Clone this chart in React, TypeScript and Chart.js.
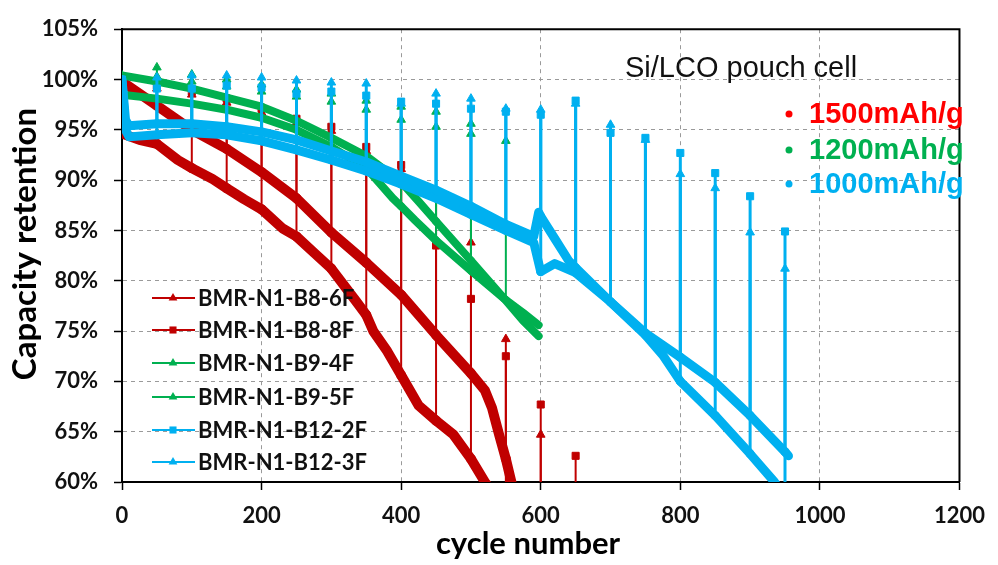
import React, { useEffect, useRef } from "react";
import { Chart, registerables } from "chart.js";

Chart.register(...registerables);

// ---------- tick labels ----------
const X_TICKS = [0, 200, 400, 600, 800, 1000, 1200];
const Y_TICKS = [60, 65, 70, 75, 80, 85, 90, 95, 100, 105];

// ---------- series names ----------
const SERIES_LABELS = [
  "BMR-N1-B8-6F",
  "BMR-N1-B8-8F",
  "BMR-N1-B9-4F",
  "BMR-N1-B9-5F",
  "BMR-N1-B12-2F",
  "BMR-N1-B12-3F",
];

const CAPACITY_LABELS = ["1500mAh/g", "1200mAh/g", "1000mAh/g"];
const NOTE_TEXT = "Si/LCO pouch cell";
const X_TITLE = "cycle number";
const Y_TITLE = "Capacity retention";

// ---------- BMR-N1-B8-6F ----------
const b86Cycles = [0, 25, 50, 100, 150, 200, 250, 300, 350, 400, 450, 500, 520, 530, 540, 550, 560, 600];
const b86Values = [99.8, 98.6, 97.4, 95.0, 93.1, 90.8, 88.2, 84.8, 81.8, 78.6, 74.6, 70.8, 69.1, 67.4, 64.8, 62.3, 59.4, 52.0];
const b86SpikeCycles = [50, 100, 150, 200, 250, 300, 350, 400, 450, 500, 550, 600];
const b86SpikeTops = [99.1, 98.5, 97.7, 96.7, 95.7, 94.9, 92.9, 91.1, 88.5, 83.8, 74.2, 64.7];

// ---------- BMR-N1-B8-8F ----------
const b88Cycles = [0, 5, 25, 50, 80, 100, 130, 150, 175, 200, 230, 250, 275, 300, 335, 350, 360, 380, 400, 425, 450, 475, 500, 520, 550, 600, 650];
const b88Values = [96.0, 94.5, 94.0, 93.6, 92.0, 91.2, 90.1, 89.2, 88.1, 87.1, 85.2, 84.4, 82.8, 81.2, 78.0, 76.6, 75.0, 73.0, 70.6, 67.6, 66.1, 64.7, 62.3, 60.0, 57.0, 53.0, 50.0];
const b88SpikeCycles = [50, 100, 150, 200, 250, 300, 350, 400, 450, 500, 550, 600, 650];
const b88SpikeTops = [99.4, 98.8, 98.1, 97.1, 96.1, 95.3, 93.3, 91.5, 83.5, 78.2, 72.5, 67.7, 62.6];

// ---------- BMR-N1-B9-4F ----------
const b94Cycles = [0, 50, 100, 150, 200, 250, 300, 350, 400, 426, 450, 500, 548, 575, 597];
const b94Values = [100.4, 99.8, 99.1, 98.2, 97.3, 95.9, 94.2, 92.4, 89.8, 87.8, 85.9, 82.0, 78.2, 76.0, 74.5];
const b94SpikeCycles = [50, 100, 150, 200, 250, 300, 350, 400, 450, 500, 550];
const b94SpikeTops = [101.2, 100.5, 100.0, 99.5, 99.0, 98.6, 97.9, 97.3, 96.8, 95.6, 94.3];

// ---------- BMR-N1-B9-5F ----------
const b95Cycles = [0, 50, 100, 150, 200, 250, 300, 350, 388, 400, 420, 450, 500, 548, 550, 575, 597];
const b95Values = [98.5, 98.1, 97.6, 97.0, 96.2, 95.0, 93.3, 91.2, 88.2, 87.4, 86.0, 84.0, 81.0, 78.2, 78.1, 76.8, 75.6];
const b95SpikeCycles = [50, 100, 150, 200, 250, 300, 350, 400, 450, 500, 550];
const b95SpikeTops = [100.3, 99.8, 99.3, 98.8, 98.3, 97.8, 97.0, 96.0, 95.3, 94.6, 93.9];

// ---------- BMR-N1-B12-2F ----------
const b122Cycles = [0, 5, 10, 50, 100, 150, 200, 250, 300, 350, 400, 450, 500, 550, 590, 597, 600, 620, 640, 650, 700, 750, 800, 850, 900, 950, 955];
const b122Values = [100.0, 96.0, 95.4, 95.6, 95.6, 95.3, 94.8, 94.0, 92.9, 91.8, 90.4, 89.0, 87.4, 85.6, 84.4, 86.8, 86.4, 84.2, 82.0, 81.3, 77.9, 74.8, 72.4, 69.9, 66.6, 63.0, 62.6];
const b122SpikeCycles = [50, 100, 150, 200, 250, 300, 350, 400, 450, 500, 550, 600, 650, 700, 750, 800, 850, 900, 950];
const b122SpikeTops = [99.1, 99.1, 99.4, 99.2, 98.6, 98.8, 98.4, 97.8, 97.6, 97.1, 96.8, 96.5, 97.9, 94.7, 94.2, 92.7, 90.7, 88.4, 84.9];

// ---------- BMR-N1-B12-3F ----------
const b123Cycles = [0, 5, 10, 50, 100, 150, 200, 250, 300, 350, 400, 450, 500, 550, 590, 600, 620, 650, 700, 750, 775, 800, 850, 900, 935, 950];
const b123Values = [99.8, 95.0, 94.3, 94.5, 94.7, 94.5, 93.9, 93.0, 92.0, 90.9, 89.6, 88.2, 86.6, 85.0, 83.8, 80.9, 81.7, 80.8, 77.9, 74.6, 72.6, 70.0, 66.6, 62.8, 60.0, 58.5];
const b123SpikeCycles = [50, 100, 150, 200, 250, 300, 350, 400, 450, 500, 550, 600, 650, 700, 750, 800, 850, 900, 950];
const b123SpikeTops = [100.2, 100.4, 100.4, 100.2, 99.9, 99.7, 99.6, 97.6, 98.6, 98.1, 97.1, 97.0, 97.6, 95.5, 94.0, 90.6, 89.2, 84.8, 81.2];

// ---------- styles ----------
const RED = "#c00000";
const GREEN = "#00b050";
const BLUE = "#00b0f0";

type Pt = { x: number; y: number; m?: boolean };

function buildPoints(cycles: number[], values: number[], spikeCycles: number[], spikeTops: number[]): Pt[] {
  const pts: Pt[] = [];
  cycles.forEach((c, i) => {
    const v = values[i];
    pts.push({ x: c, y: v, m: i === 0 });
    const k = spikeCycles.indexOf(c);
    if (k >= 0) {
      pts.push({ x: c, y: spikeTops[k], m: true });
      pts.push({ x: c, y: v });
    }
  });
  return pts;
}

const SERIES = [
  { label: SERIES_LABELS[0], cycles: b86Cycles, values: b86Values, sc: b86SpikeCycles, st: b86SpikeTops, color: RED, style: "triangle", thick: 10, thin: 2, order: 3 },
  { label: SERIES_LABELS[1], cycles: b88Cycles, values: b88Values, sc: b88SpikeCycles, st: b88SpikeTops, color: RED, style: "rect", thick: 10, thin: 2, order: 2 },
  { label: SERIES_LABELS[2], cycles: b94Cycles, values: b94Values, sc: b94SpikeCycles, st: b94SpikeTops, color: GREEN, style: "triangle", thick: 8, thin: 2, order: 1 },
  { label: SERIES_LABELS[3], cycles: b95Cycles, values: b95Values, sc: b95SpikeCycles, st: b95SpikeTops, color: GREEN, style: "triangle", thick: 8, thin: 2, order: 1 },
  { label: SERIES_LABELS[4], cycles: b122Cycles, values: b122Values, sc: b122SpikeCycles, st: b122SpikeTops, color: BLUE, style: "rect", thick: 9, thin: 3, order: 0 },
  { label: SERIES_LABELS[5], cycles: b123Cycles, values: b123Values, sc: b123SpikeCycles, st: b123SpikeTops, color: BLUE, style: "triangle", thick: 9, thin: 3, order: 0 },
];

const CAPACITY_COLORS = ["#ff0000", GREEN, BLUE];

function drawMarker(ctx: CanvasRenderingContext2D, style: string, x: number, y: number, r: number) {
  ctx.beginPath();
  if (style === "rect") {
    const s = r * 1.414;
    ctx.rect(x - s / 2, y - s / 2, s, s);
  } else {
    const h = r * 1.5;
    ctx.moveTo(x, y - h * 0.66);
    ctx.lineTo(x + r * 0.87, y + h * 0.34);
    ctx.lineTo(x - r * 0.87, y + h * 0.34);
    ctx.closePath();
  }
  ctx.fill();
}

const decorPlugin = {
  id: "decor",
  afterDatasetsDraw(chart: any) {
    const { ctx, chartArea } = chart;
    ctx.save();
    // frame (top & right)
    ctx.strokeStyle = "#000";
    ctx.lineWidth = 2;
    ctx.beginPath();
    ctx.moveTo(chartArea.left, chartArea.top);
    ctx.lineTo(chartArea.right, chartArea.top);
    ctx.lineTo(chartArea.right, chartArea.bottom);
    ctx.stroke();

    // legend
    const rows = [298, 330, 363, 397, 430, 462];
    SERIES.forEach((s, i) => {
      const y = rows[i];
      ctx.strokeStyle = s.color;
      ctx.fillStyle = s.color;
      ctx.lineWidth = 2;
      ctx.beginPath();
      ctx.moveTo(152, y);
      ctx.lineTo(195, y);
      ctx.stroke();
      drawMarker(ctx, s.style, 173, y, 5);
      ctx.fillStyle = "#111";
      ctx.font = "bold 22px Lato";
      ctx.textAlign = "left";
      ctx.textBaseline = "middle";
      ctx.fillText(s.label, 198, y + 1);
    });

    // note
    ctx.fillStyle = "#111";
    ctx.font = "29px 'Liberation Sans'";
    ctx.textAlign = "left";
    ctx.textBaseline = "middle";
    ctx.fillText(NOTE_TEXT, 625, 69);

    const capRows = [114, 150, 184];
    CAPACITY_LABELS.forEach((t, i) => {
      ctx.fillStyle = CAPACITY_COLORS[i];
      ctx.beginPath();
      ctx.arc(789, capRows[i], 3.5, 0, Math.PI * 2);
      ctx.fill();
      ctx.font = "bold 29px 'Liberation Sans'";
      ctx.fillText(t, 809, capRows[i] + 1);
    });

    // axis titles
    ctx.fillStyle = "#000";
    ctx.font = "bold 31px Lato";
    ctx.textAlign = "center";
    ctx.textBaseline = "middle";
    ctx.fillText(X_TITLE, 528, 544);
    ctx.font = "bold 33px Lato";
    ctx.translate(25, 244);
    ctx.rotate(-Math.PI / 2);
    ctx.fillText(Y_TITLE, 0, 0);
    ctx.restore();
  },
};

export default function App() {
  const ref = useRef<HTMLCanvasElement>(null);

  useEffect(() => {
    document.body.style.margin = "0";
    const canvas = ref.current;
    if (!canvas) return;

    const datasets = SERIES.map((s) => {
      const data = buildPoints(s.cycles, s.values, s.sc, s.st);
      return {
        label: s.label,
        data,
        borderColor: s.color,
        backgroundColor: s.color,
        pointBackgroundColor: s.color,
        pointBorderColor: s.color,
        pointStyle: s.style,
        pointRadius: (c: any) => (c.raw && c.raw.m ? 5 : 0),
        pointHoverRadius: 0,
        pointBorderWidth: 1,
        borderWidth: s.thick,
        borderJoinStyle: "round",
        borderCapStyle: "round",
        tension: 0,
        fill: false,
        order: s.order,
        clip: 0,
        segment: {
          borderWidth: (c: any) =>
            data[c.p0DataIndex].x === data[c.p1DataIndex].x ? s.thin : s.thick,
        },
      };
    });

    const tickFont = { family: "Lato", size: 22, weight: "bold" as const };

    const chart = new Chart(canvas, {
      type: "line",
      data: { datasets: datasets as any },
      options: {
        animation: false,
        responsive: false,
        devicePixelRatio: 1,
        events: [],
        layout: { padding: { top: 25, right: 27, left: 0, bottom: 0 } },
        plugins: { legend: { display: false }, tooltip: { enabled: false } },
        scales: {
          x: {
            type: "linear",
            min: X_TICKS[0],
            max: X_TICKS[X_TICKS.length - 1],
            afterBuildTicks: (sc: any) => {
              sc.ticks = X_TICKS.map((v) => ({ value: v }));
            },
            afterFit: (sc: any) => {
              sc.height = 83;
            },
            ticks: {
              font: tickFont,
              color: "#111",
              padding: 13,
              maxRotation: 0,
              autoSkip: false,
              callback: (v: any) => String(v),
            },
            grid: {
              color: "#9a9a9a",
              lineWidth: 1,
              tickLength: 8,
              tickColor: "#000",
              tickWidth: 1.5,
              tickBorderDash: [],
            },
            border: { color: "#000", width: 2, dash: [4, 4] },
          },
          y: {
            type: "linear",
            min: Y_TICKS[0],
            max: Y_TICKS[Y_TICKS.length - 1],
            afterBuildTicks: (sc: any) => {
              sc.ticks = Y_TICKS.map((v) => ({ value: v }));
            },
            afterFit: (sc: any) => {
              sc.width = 122;
            },
            ticks: {
              font: tickFont,
              color: "#111",
              padding: 16,
              autoSkip: false,
              callback: (v: any) => `${v}%`,
            },
            grid: {
              color: "#9a9a9a",
              lineWidth: 1,
              tickLength: 8,
              tickColor: "#000",
              tickWidth: 1.5,
              tickBorderDash: [],
            },
            border: { color: "#000", width: 2, dash: [4, 4] },
          },
        },
      },
      plugins: [decorPlugin],
    } as any);

    return () => chart.destroy();
  }, []);

  return (
    <div style={{ width: 998, height: 565, position: "relative", background: "#fff" }}>
      <canvas ref={ref} width={998} height={565} style={{ display: "block" }} />
    </div>
  );
}
